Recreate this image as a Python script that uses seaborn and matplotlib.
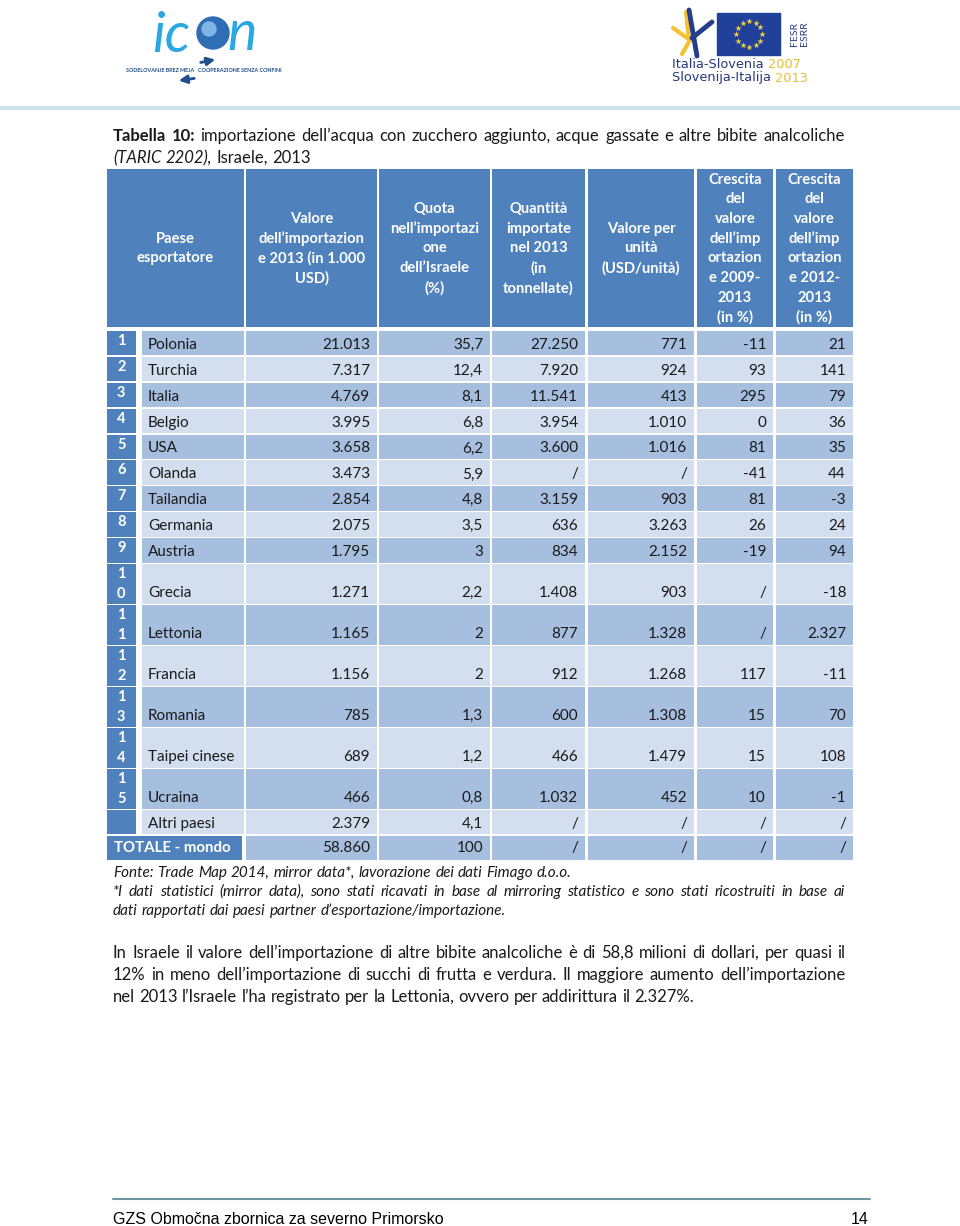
import numpy as np
import matplotlib.pyplot as plt
import seaborn as sns
from matplotlib.patches import Rectangle, Circle

sns.set_theme(style='white')
plt.rcParams['font.family'] = ['Lato', 'DejaVu Sans']

# dati della tabella
ranks = [str(i) for i in range(1, 16)] + ['']
countries = ['Polonia', 'Turchia', 'Italia', 'Belgio', 'USA', 'Olanda', 'Tailandia',
             'Germania', 'Austria', 'Grecia', 'Lettonia', 'Francia', 'Romania',
             'Taipei cinese', 'Ucraina', 'Altri paesi']
valore = ['21.013', '7.317', '4.769', '3.995', '3.658', '3.473', '2.854', '2.075',
          '1.795', '1.271', '1.165', '1.156', '785', '689', '466', '2.379']
quota = ['35,7', '12,4', '8,1', '6,8', '6,2', '5,9', '4,8', '3,5', '3', '2,2', '2',
         '2', '1,3', '1,2', '0,8', '4,1']
quantita = ['27.250', '7.920', '11.541', '3.954', '3.600', '/', '3.159', '636', '834',
            '1.408', '877', '912', '600', '466', '1.032', '/']
valore_unita = ['771', '924', '413', '1.010', '1.016', '/', '903', '3.263', '2.152',
                '903', '1.328', '1.268', '1.308', '1.479', '452', '/']
cresc_0913 = ['-11', '93', '295', '0', '81', '-41', '81', '26', '-19', '/', '/',
              '117', '15', '15', '10', '/']
cresc_1213 = ['21', '141', '79', '36', '35', '44', '-3', '24', '94', '-18', '2.327',
              '-11', '70', '108', '-1', '/']
totale_label = 'TOTALE - mondo'
totale = ['58.860', '100', '/', '/', '/', '/']

headers = [
    ['Paese', 'esportatore'],
    ['Valore', 'dell\u2019importazion', 'e 2013 (in 1.000', 'USD)'],
    ['Quota', 'nell\u2019importazi', 'one', 'dell\u2019Israele', '(%)'],
    ['Quantità', 'importate', 'nel 2013', '(in', 'tonnellate)'],
    ['Valore per', 'unità', '(USD/unità)'],
    ['Crescita', 'del', 'valore', 'dell\u2019imp', 'ortazion', 'e 2009-', '2013', '(in %)'],
    ['Crescita', 'del', 'valore', 'dell\u2019imp', 'ortazion', 'e 2012-', '2013', '(in %)'],
]
value_cols = [valore, quota, quantita, valore_unita, cresc_0913, cresc_1213]

title1 = 'importazione dell\u2019acqua con zucchero aggiunto, acque gassate e altre bibite analcoliche'
source = 'Fonte: Trade Map 2014, mirror data*, lavorazione dei dati Fimago d.o.o.'
note = ['*I dati statistici (mirror data), sono stati ricavati in base al mirroring statistico e sono stati ricostruiti in base ai',
        'dati rapportati dai paesi partner d\u2019esportazione/importazione.']
body = ['In Israele il valore dell\u2019importazione di altre bibite analcoliche è di 58,8 milioni di dollari, per quasi il',
        '12% in meno dell\u2019importazione di succhi di frutta e verdura. Il maggiore aumento dell\u2019importazione',
        'nel 2013 l\u2019Israele l\u2019ha registrato per la Lettonia, ovvero per addirittura il 2.327%.']

# colori
dark = '#4F81BD'
mid = '#A7BFDE'
light = '#D3DFEE'
ink = '#1A1A1A'

fig = plt.figure(figsize=(9.6, 12.26), dpi=100)
ax = fig.add_axes([0, 0, 1, 1])
ax.set_xlim(0, 960)
ax.set_ylim(1226, 0)
ax.axis('off')
renderer = fig.canvas.get_renderer()


def tw(s, **kw):
    t = ax.text(0, 0, s, **kw)
    w = t.get_window_extent(renderer).width
    t.remove()
    return w


def words_line(pieces, x0, y, x1=None, size=12):
    # pieces: lista di (testo, stile); giustifica fino a x1 se dato
    words = []
    for txt, st in pieces:
        for w in txt.split(' '):
            if w:
                words.append((w, st))
    kws = [dict(fontsize=size, color=ink, **st) for w, st in words]
    widths = [tw(w, **k) for (w, st), k in zip(words, kws)]
    space = tw('a a', fontsize=size) - tw('aa', fontsize=size)
    gap = space if x1 is None else (x1 - x0 - sum(widths)) / (len(words) - 1)
    x = x0
    for (w, st), k, wd in zip(words, kws, widths):
        ax.text(x, y, w, ha='left', va='center', **k)
        x += wd + gap


# intestazione pagina (loghi semplificati)
ax.plot([0, 960], [108, 108], color='#CFE2EF', lw=3, solid_capstyle='butt')
ax.text(152, 36, 'ic', fontsize=40, style='italic', color='#2AA8E0', ha='left', va='center')
ax.add_patch(Circle((213, 33), 16, color='#2F6DB5'))
ax.add_patch(Circle((209, 29), 7, color='#7FB6E6'))
ax.text(227, 34, 'n', fontsize=40, style='italic', color='#2AA8E0', ha='left', va='center')
ax.text(204, 71, 'SODELOVANJE BREZ MEJA   COOPERAZIONE SENZA CONFINI', fontsize=3.9,
        color='#1F4E8C', ha='center', va='center', fontweight='bold')
ax.annotate('', xy=(218, 59), xytext=(198, 63),
            arrowprops=dict(arrowstyle='-|>', color='#1F4E8C', lw=2))
ax.annotate('', xy=(176, 81), xytext=(197, 78),
            arrowprops=dict(arrowstyle='-|>', color='#1F4E8C', lw=2))

ax.plot([673, 690], [28, 40], color='#F2C230', lw=3)
ax.plot([690, 682], [40, 54], color='#F2C230', lw=3)
ax.plot([686, 689], [12, 40], color='#F2C230', lw=3)
ax.plot([689, 697], [10, 56], color='#263D8C', lw=3.5)
ax.plot([692, 712], [38, 22], color='#263D8C', lw=3.5)
ax.add_patch(Rectangle((717, 13), 63, 42, color='#21409A'))
ang = np.deg2rad(np.arange(0, 360, 30))
ax.scatter(749 + 13 * np.cos(ang), 34 + 13 * np.sin(ang), marker='*', s=22,
           color='#F4D33B', linewidths=0, zorder=3)
ax.text(794, 34, 'FESR', rotation=90, fontsize=7.5, color='#263D8C', ha='center', va='center')
ax.text(805, 34, 'ESRR', rotation=90, fontsize=7.5, color='#263D8C', ha='center', va='center')
for yy, a, b in [(64, 'Italia-Slovenia ', '2007'), (78, 'Slovenija-Italija ', '2013')]:
    ax.text(672, yy, a, fontsize=9.3, color='#27397A', ha='left', va='center',
            family=['DejaVu Sans'])
    ax.text(672 + tw(a, fontsize=9.3, family=['DejaVu Sans']), yy, b, fontsize=9.3,
            color='#E5BF33', ha='left', va='center', family=['DejaVu Sans'])

# titolo
words_line([('Tabella 10:', dict(fontweight='bold')), (title1, {})], 113, 136, 845)
words_line([('(TARIC 2202),', dict(style='italic')), ('Israele, 2013', {})], 113, 158)

# geometria tabella
num_x = (106.5, 136)
country_x = (141.5, 244)
col_x = [(246, 377), (379, 490), (492, 585), (588, 694), (697, 773), (776, 853)]
head_top, head_bot = 169, 327

tops, hts = [], []
y = 331
for r in ranks + ['']:
    h = 39.5 if len(r) > 1 else 24.4
    tops.append(y)
    hts.append(h)
    y += h + 1.5
tops = np.array(tops)
hts = np.array(hts)
row_cols = [mid if i % 2 == 0 else light for i in range(len(tops))]

# celle intestazione
head_lefts = [num_x[0]] + [c[0] for c in col_x]
head_w = [country_x[1] - num_x[0]] + [c[1] - c[0] for c in col_x]
ax.bar(head_lefts, head_bot - head_top, width=head_w, bottom=head_top,
       align='edge', color=dark, linewidth=0)
hc = (head_top + head_bot) / 2 + 0.5
for left, w, lines in zip(head_lefts, head_w, headers):
    n = len(lines)
    for k, ln in enumerate(lines):
        ax.text(left + w / 2, hc + (k - (n - 1) / 2) * 19.7, ln, fontsize=10.6,
                fontweight='bold', color='white', ha='center', va='center')

# celle dati
n = len(ranks)
ax.bar([num_x[0]] * n, hts[:n], width=num_x[1] - num_x[0], bottom=tops[:n],
       align='edge', color=dark, linewidth=0)
ax.bar([country_x[0]] * n, hts[:n], width=country_x[1] - country_x[0], bottom=tops[:n],
       align='edge', color=row_cols[:n], linewidth=0)
ax.bar([num_x[0]], [hts[n]], width=242 - num_x[0], bottom=[tops[n]],
       align='edge', color=dark, linewidth=0)
for (x0, x1) in col_x:
    ax.bar([x0] * len(tops), hts, width=x1 - x0, bottom=tops, align='edge',
           color=row_cols, linewidth=0)

dsize = 11
for i in range(n):
    bot = tops[i] + hts[i]
    for k, ch in enumerate(ranks[i]):
        ax.text((num_x[0] + num_x[1]) / 2, tops[i] + 10 + k * 19.5, ch, fontsize=10.5,
                fontweight='bold', color='white', ha='center', va='center')
    ax.text(148, bot - 10.5, countries[i], fontsize=dsize, color=ink, ha='left', va='center')
    for (x0, x1), col in zip(col_x, value_cols):
        ax.text(x1 - 7, bot - 10.5, col[i], fontsize=dsize, color=ink, ha='right', va='center')

bot = tops[n] + hts[n]
ax.text(114, bot - 12, totale_label, fontsize=10.8, fontweight='bold', color='white',
        ha='left', va='center')
for (x0, x1), v in zip(col_x, totale):
    ax.text(x1 - 7, bot - 12, v, fontsize=dsize, color=ink, ha='right', va='center')

# note e testo
words_line([(source, dict(style='italic'))], 113, 873, size=11)
words_line([(note[0], dict(style='italic'))], 113, 892, 845, size=11)
words_line([(note[1], dict(style='italic'))], 113, 911, size=11)
words_line([(body[0], {})], 113, 953, 845)
words_line([(body[1], {})], 113, 975, 845)
words_line([(body[2], {})], 113, 997)

# piè di pagina
ax.plot([113, 870], [1199, 1199], color='#6E97A2', lw=1.5)
ax.text(113, 1220, 'GZS Območna zbornica za severno Primorsko', fontsize=11.5,
        family=['Liberation Sans'], color='black', ha='left', va='center')
ax.text(869, 1220, '14', fontsize=11.5, family=['Liberation Sans'], color='black',
        ha='right', va='center')

fig.savefig('out.png', dpi=100)
